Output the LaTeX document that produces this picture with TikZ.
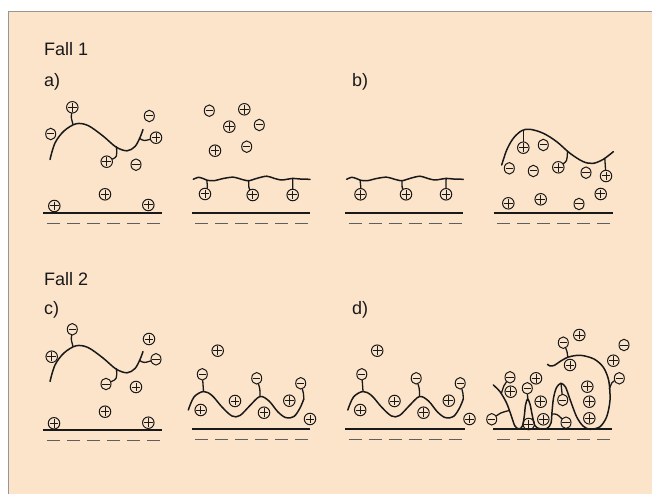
\documentclass[tikz,border=0pt]{standalone}
\usepackage{fontspec}
\setmainfont{Liberation Sans}
\usetikzlibrary{shapes.geometric}

\definecolor{paper}{RGB}{252,228,203}
\definecolor{frame}{RGB}{150,150,150}
\definecolor{dashgray}{RGB}{95,95,95}
\definecolor{ink}{RGB}{25,25,25}

\tikzset{
  ion/.style={draw=ink, line width=1pt, inner sep=0pt},
  cation/.style={ion, circle, minimum size=11.5pt, path picture={
      \draw[ink, line width=1pt]
        ([xshift=1.4pt]path picture bounding box.west) -- ([xshift=-1.4pt]path picture bounding box.east)
        ([yshift=-1.4pt]path picture bounding box.north) -- ([yshift=1.4pt]path picture bounding box.south);}},
  anion/.style={ion, ellipse, minimum width=10pt, minimum height=11.5pt, path picture={
      \draw[ink, line width=1pt]
        ([xshift=1.4pt]path picture bounding box.west) -- ([xshift=-1.4pt]path picture bounding box.east);}},
  strand/.style={ink, line width=1.5pt, line cap=round, line join=round},
  stem/.style={ink, line width=1.3pt, line cap=round},
  surface/.style={ink, line width=2pt},
  charges/.style={dashgray, line width=1.4pt, dash pattern=on 13pt off 7pt},
  caption/.style={ink, font=\fontsize{18}{21}\selectfont, anchor=base west, inner sep=0pt},
}

% solid surface with the row of negative charges below it
\newcommand\chargedsurface[4]{%
  \draw[surface] (#1,#3) -- (#2,#3);
  \draw[charges] (#4,#3+10.5) -- ++(113,0);}

% branched strand with three tethered ions (#1 prefix, #2 top ion, #3 lower ion, #4 side ion)
\newcommand\arcstrand[4]{%
  \draw[strand] plot[smooth, tension=0.55] coordinates {(50,159.5) (55,143) (64,131) (76,123.8) (88,125.5) (103,136) (116,147) (127,150.8) (135,146.5) (140,137.5) (143,129.5)};
  \coordinate (#1k1) at (73,124.5);
  \coordinate (#1k2) at (116.5,146.8);
  \coordinate (#1k3) at (139.6,138.5);
  \draw[stem] (#1k1) .. controls (71,117) .. (#2);
  \draw[stem] (#1k2) .. controls (117,157) .. (#3);
  \draw[stem] (#1k3) .. controls (144,141) .. (#4);}

% flat wavy strand lying on the surface
\newcommand\tetherwave[4]{%
  \draw[strand] plot[smooth, tension=0.5] coordinates {(193.3,179.3) (198.3,177.3) (203,178.5) (207,180.2) (214,180.7) (223.3,178.5) (233.3,177.2) (243.3,179.8) (249,180.7) (257,178.3) (266.7,176.2) (274,178.3) (281,180) (287,179.3) (293,178.4) (300,179) (310,179.3)};
  \coordinate (#1k1) at (206.8,180.1);
  \coordinate (#1k2) at (248.6,180.7);
  \coordinate (#1k3) at (292.8,178.4);
  \draw[stem] (#1k1) .. controls (207.5,187) .. (#2);
  \draw[stem] (#1k2) .. controls (248.8,188) .. (#3);
  \draw[stem] (#1k3) -- (#4);}

% strand forming loops over the surface
\newcommand\loopwave[4]{%
  \draw[strand] plot[smooth, tension=0.55] coordinates {(188.3,410) (194,397) (203.5,391.5) (212,395.5) (222,407) (232,416) (240,415.5) (250,405.5) (260,396.5) (269,401) (278,412) (286,417.7) (294,416.5) (300,408) (303.8,399)};
  \coordinate (#1k1) at (203.5,391.5);
  \coordinate (#1k2) at (260,396.5);
  \coordinate (#1k3) at (303.8,399);
  \draw[stem] (#1k1) -- (#2);
  \draw[stem] (#1k2) .. controls (260,389) .. (#3);
  \draw[stem] (#1k3) .. controls (303.5,393) .. (#4);}

\begin{document}
\begin{tikzpicture}[x=1pt, y=-1pt]
\useasboundingbox (0,0) rectangle (652,494);
\clip (0,0) rectangle (652,494);
\fill[white] (0,0) rectangle (652,494);
\draw[frame, fill=paper, line width=1pt] (8.5,11.5) rectangle (700,540);

% headings
\node[caption] (fall1) at (44,56) {Fall 1};
\node[caption] (capa) at (44,87) {a)};
\node[caption] (capb) at (352,87) {b)};
\node[caption] (fall2) at (44,285) {Fall 2};
\node[caption] (capc) at (44,314) {c)};
\node[caption] (capd) at (352,314) {d)};

% surfaces
\chargedsurface{43}{162}{213}{46.5}
\chargedsurface{192}{310}{213}{195}
\chargedsurface{345}{463}{213}{348.5}
\chargedsurface{494}{613}{213}{497}
\chargedsurface{43}{162}{430}{46.5}
\chargedsurface{192}{310}{429}{195}
\chargedsurface{345}{465}{429}{348.5}
\chargedsurface{493}{612}{429}{497}

% ---- a) left: strand in solution
\foreach \n/\x/\y in {a1p1/72.3/107.3, a1p4/156/137.7, a1p5/106.7/161.7, a1p7/105/194.3, a1p8/54.3/206, a1p9/148.3/205}
  \node[cation] (\n) at (\x,\y) {};
\foreach \n/\x/\y in {a1n2/50.7/134, a1n3/149.3/116, a1n6/136/164.7}
  \node[anion] (\n) at (\x,\y) {};
\arcstrand{a1}{a1p1}{a1p5}{a1p4}

% ---- a) right: strand adsorbed, counter-ions released
\foreach \n/\x/\y in {a2p1/244.3/109.3, a2p2/229.3/126.7, a2p3/215/150.7, a2p4/205/194, a2p5/252.7/195, a2p6/292.7/195}
  \node[cation] (\n) at (\x,\y) {};
\foreach \n/\x/\y in {a2n1/209.3/110.7, a2n2/259.3/125, a2n3/246.7/146.7}
  \node[anion] (\n) at (\x,\y) {};
\tetherwave{a2}{a2p4}{a2p5}{a2p6}

% ---- b) left
\foreach \n/\x/\y in {b1p1/360.5/194.3, b1p2/406/194.3, b1p3/446/194.3}
  \node[cation] (\n) at (\x,\y) {};
\begin{scope}[shift={(153.3,0)}]
  \tetherwave{b1}{b1p1}{b1p2}{b1p3}
\end{scope}

% ---- b) right
\foreach \n/\x/\y in {b2p1/523.3/147.7, b2p5/558.3/167.3, b2p7/606/176, b2p8/600.7/194, b2p9/508.3/203.3, b2p10/540.7/199.3}
  \node[cation] (\n) at (\x,\y) {};
\foreach \n/\x/\y in {b2n2/543.3/145, b2n3/509.3/168.3, b2n4/533.3/171, b2n6/586/172.7, b2n11/579/204}
  \node[anion] (\n) at (\x,\y) {};
\draw[strand] plot[smooth, tension=0.55] coordinates {(501.7,165) (506.7,150) (513.3,138.3) (521.7,130.7) (530,129.3) (543.3,133.3) (556.7,141.7) (570,153.3) (583.3,161.7) (593.3,163.3) (603.3,159.3) (613.3,151.7)};
\coordinate (b2k1) at (523.3,130.5);
\coordinate (b2k2) at (567.5,151.3);
\coordinate (b2k3) at (604.8,158.8);
\draw[stem] (b2k1) -- (b2p1);
\draw[stem] (b2k2) .. controls (567,161) .. (b2p5);
\draw[stem] (b2k3) -- (b2p7);

% ---- c) left
\foreach \n/\x/\y in {c1p1/51.7/356.7, c1p2/149/339, c1p3/136/387, c1p4/105/411.7, c1p5/54/423.3, c1p6/148.3/422.7}
  \node[cation] (\n) at (\x,\y) {};
\foreach \n/\x/\y in {c1n1/72.3/329.3, c1n2/156/359.3, c1n3/106/384}
  \node[anion] (\n) at (\x,\y) {};
\begin{scope}[shift={(0,222)}]
  \arcstrand{c1}{c1n1}{c1n3}{c1n2}
\end{scope}

% ---- c) right
\foreach \n/\x/\y in {c2p1/217.7/350.7, c2p2/200.7/410, c2p3/235/401, c2p4/264/412.7, c2p5/289.3/400.7, c2p6/310/419}
  \node[cation] (\n) at (\x,\y) {};
\foreach \n/\x/\y in {c2n1/202.3/374.3, c2n2/256.7/378.3, c2n3/300.7/383.3}
  \node[anion] (\n) at (\x,\y) {};
\loopwave{c2}{c2n1}{c2n2}{c2n3}

% ---- d) left
\begin{scope}[shift={(159.5,0)}]
  \foreach \n/\x/\y in {d1p1/217.7/350.7, d1p2/200.7/410, d1p3/235/401, d1p4/264/412.7, d1p5/289.3/400.7, d1p6/310/419}
    \node[cation] (\n) at (\x,\y) {};
  \foreach \n/\x/\y in {d1n1/202.3/374.3, d1n2/256.7/378.3, d1n3/300.7/383.3}
    \node[anion] (\n) at (\x,\y) {};
  \loopwave{d1}{d1n1}{d1n2}{d1n3}
\end{scope}

% ---- d) right: strand folded into loops
\foreach \n/\x/\y in {d2p1/510.7/391.7, d2p2/536/378.3, d2p3/540.7/401.7, d2p4/528.7/424, d2p5/543.3/419.3, d2p6/579.3/335, d2p7/570/365, d2p8/587.3/386.7, d2p9/589.3/401.7, d2p10/589.3/418.3, d2p11/613.3/360.7}
  \node[cation] (\n) at (\x,\y) {};
\foreach \n/\x/\y in {d2n1/510/377.3, d2n2/491.7/419.3, d2n3/527.3/388.3, d2n4/562.7/400, d2n5/566/422.7, d2n6/563.3/342.7, d2n7/624/345, d2n8/619.3/378.3}
  \node[anion] (\n) at (\x,\y) {};
\draw[strand] plot[smooth, tension=0.5] coordinates {(493.3,385) (500,391.7) (506.7,403.3) (511.5,416.5) (514.8,425.8) (519,429) (522.5,425.8) (524.3,416) (525.5,405) (527.7,399) (530.2,405) (532.5,416.5) (535,425.8) (540,428.8) (547,428.5) (551,423) (552,412) (553.5,398) (556.5,387.5) (561,383.3) (565.5,387) (569.5,398) (576.5,416.5) (583,426) (590,429.3) (600,426.7) (606.7,416.7) (610,400) (608.8,381) (603.5,367.5) (594,359) (580.5,355.3) (568.5,357) (560,361.5) (554.5,365.3) (550,366) (547.5,364.3)};
\coordinate (d2k1) at (509,410.5);
\coordinate (d2k2) at (501.5,393);
\coordinate (d2k3) at (527.7,399);
\coordinate (d2k4) at (561,383.3);
\coordinate (d2k5) at (552,414);
\coordinate (d2k6) at (567.8,357.2);
\coordinate (d2k7) at (609.3,389);
\draw[stem] (d2k1) .. controls (500,413) .. (d2n2);
\draw[stem] (d2k2) .. controls (504,385) .. (d2n1);
\draw[stem] (d2k3) -- (d2n3);
\draw[stem] (d2k4) -- (d2n4);
\draw[stem] (d2k5) .. controls (557,414) .. (d2n5);
\draw[stem] (d2k6) .. controls (567,351) .. (d2n6);
\draw[stem] (d2k7) .. controls (612,382) .. (d2n8);
\end{tikzpicture}
\end{document}
